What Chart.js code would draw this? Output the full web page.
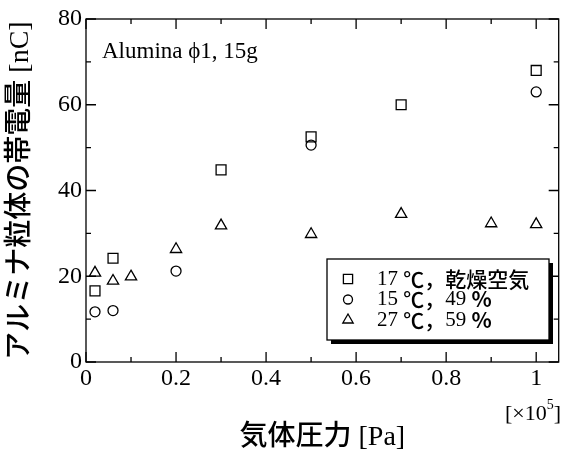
<!DOCTYPE html>
<html>
<head>
<meta charset="utf-8">
<script src="https://cdn.jsdelivr.net/npm/chart.js@4.4.1/dist/chart.umd.min.js"></script>
<style>
  html, body { margin: 0; padding: 0; background: #fff; }
  #wrap { width: 567px; height: 452px; }
</style>
</head>
<body>
<div id="wrap"><canvas id="chargeChart" width="567" height="452"></canvas></div>
<script>
// pressure in [x10^5 Pa], charge in [nC]
const dryPressure = [0.02, 0.06, 0.3, 0.5, 0.7, 1.0];
const dryCharge = [16.6, 24.2, 44.8, 52.5, 60.0, 68.0];

const rh49Pressure = [0.02, 0.06, 0.2, 0.5, 1.0];
const rh49Charge = [11.7, 12.0, 21.2, 50.6, 63.0];

const rh59Pressure = [0.02, 0.06, 0.1, 0.2, 0.3, 0.5, 0.7, 0.9, 1.0];
const rh59Charge = [20.8, 18.9, 19.9, 26.3, 31.8, 29.8, 34.5, 32.3, 32.1];

const seriesLabels = ["17 ℃，乾燥空気", "15 ℃，49 %", "27 ℃，59 %"];
const seriesStyles = ["rect", "circle", "triangle"];

const xTickValues = [0, 0.2, 0.4, 0.6, 0.8, 1];
const xTickLabels = ["0", "0.2", "0.4", "0.6", "0.8", "1"];
const xMinorValues = [0.1, 0.3, 0.5, 0.7, 0.9];
const yTickValues = [0, 20, 40, 60, 80];
const yTickLabels = ["0", "20", "40", "60", "80"];
const yMinorValues = [10, 30, 50, 70];

const xTitle = "気体圧力 [Pa]";
const yTitle = "アルミナ粒体の帯電量 [nC]";
const sampleNote = "Alumina ϕ1, 15g";

const serif = "'Liberation Serif', 'Noto Sans CJK JP', serif";
const gothic = "'Noto Sans CJK JP', sans-serif";

function toPoints(xs, ys) {
  return xs.map((x, i) => ({ x: x, y: ys[i] }));
}

// digits and spaces in serif, the rest in gothic (like the original legend)
function mixedText(ctx, text, x, y, size) {
  for (const ch of text) {
    if (/[0-9 ]/.test(ch)) ctx.font = size + "px " + serif;
    else if (ch === "%") ctx.font = "bold " + size + "px " + gothic;
    else ctx.font = "500 " + size + "px " + gothic;
    ctx.fillText(ch, x, y);
    x += ctx.measureText(ch).width;
  }
}

// frame, inward ticks, legend box and notes
const decorPlugin = {
  id: "decor",
  afterDraw(chart) {
    const ctx = chart.ctx;
    const a = chart.chartArea;
    const xs = chart.scales.x;
    const ys = chart.scales.y;
    ctx.save();
    ctx.strokeStyle = "#000";
    ctx.lineWidth = 1.3;
    ctx.strokeRect(a.left, a.top, a.right - a.left, a.bottom - a.top);

    ctx.beginPath();
    const xMark = (v, len) => {
      const px = xs.getPixelForValue(v);
      ctx.moveTo(px, a.bottom); ctx.lineTo(px, a.bottom - len);
      ctx.moveTo(px, a.top); ctx.lineTo(px, a.top + len);
    };
    const yMark = (v, len) => {
      const py = ys.getPixelForValue(v);
      ctx.moveTo(a.left, py); ctx.lineTo(a.left + len, py);
      ctx.moveTo(a.right, py); ctx.lineTo(a.right - len, py);
    };
    xTickValues.forEach(v => xMark(v, 10));
    xMinorValues.forEach(v => xMark(v, 5));
    yTickValues.forEach(v => yMark(v, 10));
    yMinorValues.forEach(v => yMark(v, 5));
    ctx.stroke();

    // legend with drop shadow
    const lx = 327, ly = 259, lw = 222, lh = 81;
    ctx.fillStyle = "#000";
    ctx.fillRect(lx + 4, ly + 4, lw, lh);
    ctx.fillStyle = "#fff";
    ctx.fillRect(lx, ly, lw, lh);
    ctx.strokeRect(lx, ly, lw, lh);
    ctx.textBaseline = "middle";
    ctx.textAlign = "left";
    const radii = [6.5, 4.5, 6];
    seriesLabels.forEach((label, i) => {
      const rowY = 279 + i * 20.5;
      ctx.fillStyle = "rgba(0,0,0,0)";
      Chart.helpers.drawPoint(ctx, { pointStyle: seriesStyles[i], radius: radii[i], rotation: 0, borderWidth: 1.3 }, 348, rowY);
      ctx.fillStyle = "#000";
      mixedText(ctx, label, 377, rowY, 21);
    });

    ctx.font = "23px " + serif;
    ctx.fillText(sampleNote, 102, 52);

    // x10^5 multiplier
    ctx.font = "22px " + serif;
    let px = 505;
    ctx.fillText("[×10", px, 414);
    px += ctx.measureText("[×10").width;
    ctx.font = "14px " + serif;
    ctx.fillText("5", px, 405);
    px += ctx.measureText("5").width;
    ctx.font = "22px " + serif;
    ctx.fillText("]", px, 414);
    ctx.restore();
  }
};

const ctx = document.getElementById("chargeChart").getContext("2d");
const chargeChart = new Chart(ctx, {
  type: "scatter",
  data: {
    datasets: [
      { label: seriesLabels[0], data: toPoints(dryPressure, dryCharge), pointStyle: "rect", pointRadius: 7 },
      { label: seriesLabels[1], data: toPoints(rh49Pressure, rh49Charge), pointStyle: "circle", pointRadius: 5 },
      { label: seriesLabels[2], data: toPoints(rh59Pressure, rh59Charge), pointStyle: "triangle", pointRadius: 6.5 }
    ].map(d => Object.assign(d, {
      backgroundColor: "rgba(0,0,0,0)",
      borderColor: "#000",
      pointBorderWidth: 1.3,
      showLine: false
    }))
  },
  options: {
    responsive: false,
    animation: false,
    devicePixelRatio: 1,
    layout: { padding: { top: 19, right: 1, left: 0, bottom: 0 } },
    plugins: { legend: { display: false }, tooltip: { enabled: false } },
    scales: {
      x: {
        type: "linear",
        min: 0,
        max: 1.05,
        grid: { display: false, drawTicks: false },
        border: { display: false },
        afterBuildTicks: s => { s.ticks = xTickValues.map(v => ({ value: v })); },
        afterFit: s => { s.height = 90; },
        ticks: {
          padding: 2,
          maxRotation: 0,
          color: "#000",
          font: { family: serif, size: 24 },
          callback: (v, i) => xTickLabels[i]
        },
        title: {
          display: true,
          text: xTitle,
          color: "#000",
          font: { family: serif, size: 28, weight: 500, lineHeight: 1 },
          padding: { top: 0, bottom: 0 }
        }
      },
      y: {
        type: "linear",
        min: 0,
        max: 80,
        grid: { display: false, drawTicks: false },
        border: { display: false },
        afterBuildTicks: s => { s.ticks = yTickValues.map(v => ({ value: v })); },
        afterFit: s => { s.width = 86; },
        ticks: {
          padding: 4,
          color: "#000",
          font: { family: serif, size: 24 },
          callback: (v, i) => yTickLabels[i]
        },
        title: {
          display: true,
          text: yTitle,
          color: "#000",
          font: { family: serif, size: 28, weight: 500, lineHeight: 1 },
          padding: { top: 7, bottom: 0 }
        }
      }
    }
  },
  plugins: [decorPlugin]
});
</script>
</body>
</html>
